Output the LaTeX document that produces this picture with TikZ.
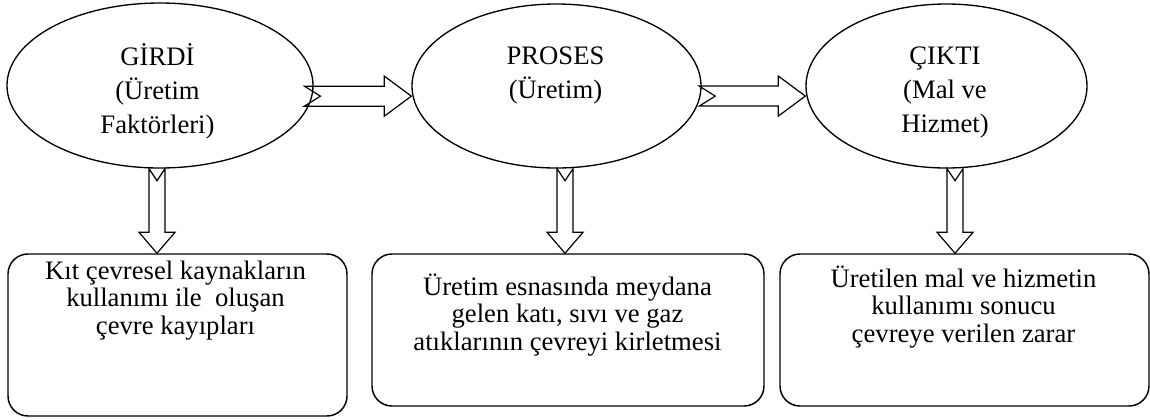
\documentclass[tikz,border=0pt]{standalone}
\usepackage{fontspec}
\setmainfont{Liberation Serif}
\usetikzlibrary{shapes.geometric,calc}

\tikzset{
  stage/.style={draw, ellipse, line width=1pt, inner sep=0pt},
  effect/.style={draw, rectangle, rounded corners=15pt, line width=1.1pt, inner sep=0pt},
  lbl/.style={align=center, font=\fontsize{20}{25.5}\selectfont, inner sep=0pt, anchor=base},
  efftext/.style={align=center, font=\fontsize{20}{20.6}\selectfont, inner sep=0pt, anchor=base},
  hollow/.style={draw, line width=0.9pt, line join=miter},
}

% hollow block arrows with a notched tail
\newcommand{\rightblock}[2]{%
  \draw[hollow] let \p1=(#1), \p2=(#2) in
    (\x1,\y1+7.5pt) -- (\x2-20.25pt,\y1+7.5pt) -- (\x2-20.25pt,\y1+15pt) -- (\x2,\y1)
    -- (\x2-20.25pt,\y1-15pt) -- (\x2-20.25pt,\y1-7.5pt) -- (\x1,\y1-7.5pt) -- (\x1+12pt,\y1) -- cycle;}
\newcommand{\downblock}[2]{%
  \draw[hollow] let \p1=(#1), \p2=(#2) in
    (\x1-6pt,\y1) -- (\x1-6pt,\y2+15.75pt) -- (\x1-13.5pt,\y2+15.75pt) -- (\x1,\y2)
    -- (\x1+13.5pt,\y2+15.75pt) -- (\x1+6pt,\y2+15.75pt) -- (\x1+6pt,\y1) -- (\x1,\y1-9pt) -- cycle;}

\begin{document}
\begin{tikzpicture}[x=0.75pt, y=-0.75pt]
    \useasboundingbox (0,0) rectangle (1150,419);

    % Stages
    \node[stage, minimum width=229.5pt, minimum height=123.75pt] (girdi) at (160,85.5) {};
    \node[stage, minimum width=216.75pt, minimum height=123pt] (proses) at (556.5,86) {};
    \node[stage, minimum width=210.75pt, minimum height=123pt] (cikti) at (946.5,86) {};
    \node[lbl] (girdi text) at (157.5,133) {GİRDİ\\(Üretim\\Faktörleri)};
    \node[lbl] (proses text) at (555.5,98) {PROSES\\(Üretim)};
    \node[lbl] (cikti text) at (945,132) {ÇIKTI\\(Mal ve\\Hizmet)};

    % Environmental effects
    \node[effect, minimum width=254.25pt, minimum height=121.5pt] (kayip) at (177.5,335) {};
    \node[effect, minimum width=294pt, minimum height=114pt] (atik) at (568,330) {};
    \node[effect, minimum width=276.75pt, minimum height=114pt] (zarar) at (964.5,330) {};
    \node[efftext] (kayip text) at (175.5,334) {Kıt çevresel kaynakların\\kullanımı ile\ \ oluşan\\çevre kayıpları};
    \node[efftext] (atik text) at (567.5,350) {Üretim esnasında meydana\\gelen katı, sıvı ve gaz\\atıklarının çevreyi kirletmesi};
    \node[efftext] (zarar text) at (963.5,342) {Üretilen mal ve hizmetin\\kullanımı sonucu\\çevreye verilen zarar};

    % Arrows
    \rightblock{[xshift=-6pt]girdi.-4}{proses.west}
    \rightblock{[xshift=-1pt]proses.-4}{cikti.west}
    \downblock{[xshift=-2.25pt]girdi.south}{kayip.north}
    \downblock{[xshift=6.4pt]proses.south}{atik.north}
    \downblock{[xshift=6.4pt]cikti.south}{zarar.north}
\end{tikzpicture}
\end{document}
